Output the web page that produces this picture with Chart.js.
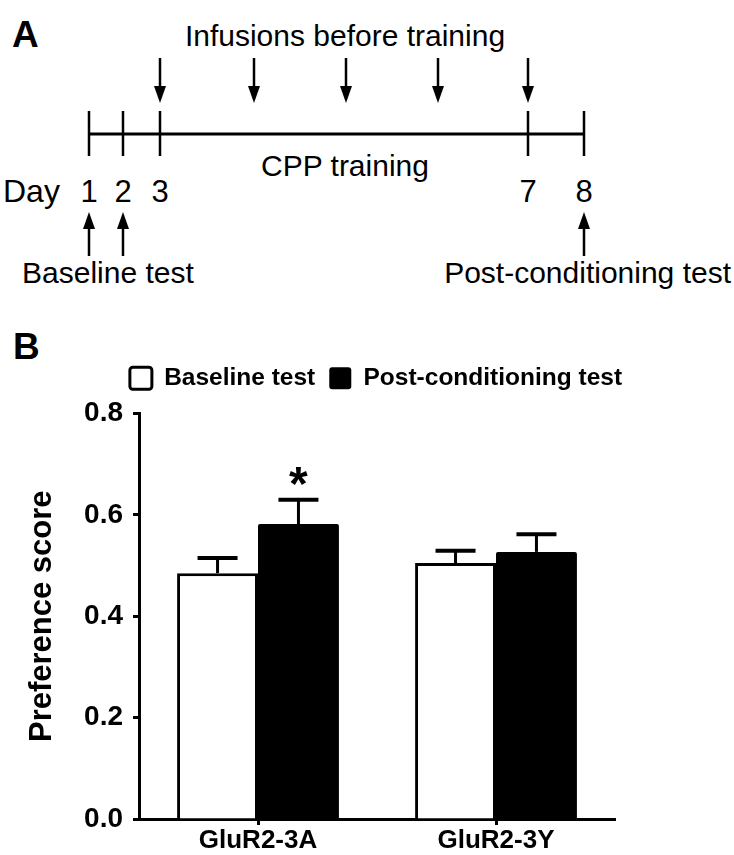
<!DOCTYPE html>
<html>
<head>
<meta charset="utf-8">
<script src="https://cdn.jsdelivr.net/npm/chart.js@4.4.1/dist/chart.umd.min.js"></script>
<style>
    html, body { margin: 0; padding: 0; background: #fff; }
    #page { position: relative; width: 734px; height: 855px; overflow: hidden; }
    #diagram { position: absolute; left: 0; top: 0; }
    #chartBox { position: absolute; left: 18px; top: 352px; width: 716px; height: 503px; }
</style>
</head>
<body>
<div id="page">
    <svg id="diagram" width="734" height="855"></svg>
    <div id="chartBox"><canvas id="myChart"></canvas></div>
</div>
<script>

    // panel B data
    const groups = ['GluR2-3A', 'GluR2-3Y'];
    const baselineScore = [0.485, 0.505];
    const baselineSem = [0.030, 0.024];
    const postScore = [0.582, 0.527];
    const postSem = [0.048, 0.035];
    const postMarks = ['*', ''];
    const yTicks = [0, 0.2, 0.4, 0.6, 0.8];

    // panel A schedule
    const dayTicks = [1, 2, 3, 7, 8];
    const infusionDays = [3, 4, 5, 6, 7];
    const baselineDays = [1, 2];
    const postDays = [8];

    const FONT = "'Liberation Sans', Arial, Helvetica, sans-serif";

    // ---------- panel A: schematic timeline (not to scale) ----------
    const dayX = { 1: 89, 2: 123, 3: 160, 4: 254, 5: 346, 6: 438, 7: 528, 8: 584 };
    const svg = document.getElementById('diagram');
    const NS = 'http://www.w3.org/2000/svg';

    function add(tag, attrs, text) {
        const el = document.createElementNS(NS, tag);
        for (const k in attrs) el.setAttribute(k, attrs[k]);
        if (text !== undefined) el.textContent = text;
        svg.appendChild(el);
        return el;
    }
    function label(x, y, text, size, anchor, bold) {
        return add('text', {
            x: x, y: y, 'font-family': FONT, 'font-size': size,
            'font-weight': bold ? 'bold' : 'normal', 'text-anchor': anchor || 'start', fill: '#000'
        }, text);
    }
    function arrow(x, y1, y2) {
        // head sits at y2
        const dir = y2 > y1 ? 1 : -1;
        add('line', { x1: x, y1: y1, x2: x, y2: y2 - dir * 12, stroke: '#000', 'stroke-width': 2.5 });
        add('polygon', { points: `${x - 6},${y2 - dir * 17} ${x + 6},${y2 - dir * 17} ${x},${y2}`, fill: '#000' });
    }

    label(12, 47, 'A', 37, 'start', true);
    label(345, 46, 'Infusions before training', 30, 'middle');
    infusionDays.forEach(d => arrow(dayX[d], 58, 103));

    add('line', { x1: dayX[1], y1: 134, x2: dayX[8], y2: 134, stroke: '#000', 'stroke-width': 3 });
    dayTicks.forEach(d => {
        add('line', { x1: dayX[d], y1: 111, x2: dayX[d], y2: 156, stroke: '#000', 'stroke-width': 2.5 });
        label(dayX[d], 202, String(d), 31, 'middle');
    });
    label(345, 176, 'CPP training', 30, 'middle');
    label(3, 202, 'Day', 32, 'start');

    baselineDays.concat(postDays).forEach(d => arrow(dayX[d], 256, 212));
    label(22, 283, 'Baseline test', 30, 'start');
    label(731, 283, 'Post-conditioning test', 30, 'end');

    label(13, 359, 'B', 37, 'start', true);

    // ---------- panel B: bar chart ----------
    const errorBars = {
        id: 'errorBars',
        afterDatasetsDraw(chart) {
            const c = chart.ctx;
            const y = chart.scales.y;
            chart.data.datasets.forEach((ds, i) => {
                const meta = chart.getDatasetMeta(i);
                meta.data.forEach((bar, j) => {
                    const top = y.getPixelForValue(ds.data[j] + ds.errors[j]);
                    c.save();
                    c.strokeStyle = '#000';
                    c.lineWidth = 3;
                    c.beginPath();
                    c.moveTo(bar.x, bar.y);
                    c.lineTo(bar.x, top);
                    c.stroke();
                    c.lineWidth = 4;
                    c.beginPath();
                    c.moveTo(bar.x - 20, top);
                    c.lineTo(bar.x + 20, top);
                    c.stroke();
                    const mark = ds.marks ? ds.marks[j] : '';
                    if (mark) {
                        c.font = 'bold 48px ' + FONT;
                        c.fillStyle = '#000';
                        c.textAlign = 'center';
                        c.textBaseline = 'alphabetic';
                        const m = c.measureText(mark);
                        const mid = top - 24;
                        c.fillText(mark, bar.x, mid + (m.actualBoundingBoxAscent - m.actualBoundingBoxDescent) / 2);
                    }
                    c.restore();
                });
            });
        }
    };

    const config = {
        type: 'bar',
        data: {
            labels: groups,
            datasets: [{
                label: 'Baseline test',
                data: baselineScore,
                errors: baselineSem,
                backgroundColor: '#ffffff',
                borderColor: '#000000',
                borderWidth: 3
            }, {
                label: 'Post-conditioning test',
                data: postScore,
                errors: postSem,
                marks: postMarks,
                backgroundColor: '#000000',
                borderColor: '#000000',
                borderWidth: 0,
                borderRadius: 2,
                borderSkipped: 'bottom'
            }]
        },
        options: {
            responsive: true,
            maintainAspectRatio: false,
            animation: false,
            datasets: {
                bar: { categoryPercentage: 0.68, barPercentage: 1 }
            },
            plugins: {
                legend: {
                    position: 'top',
                    align: 'center',
                    weight: 1000,
                    labels: {
                        color: '#000',
                        font: { family: FONT, size: 24.5, weight: 'bold' },
                        boxWidth: 22,
                        boxHeight: 22,
                        padding: 14,
                        useBorderRadius: true,
                        borderRadius: 3
                    }
                },
                // blank spacer between legend and plot
                title: {
                    display: true,
                    text: ' ',
                    weight: 500,
                    font: { size: 10, lineHeight: 1 },
                    padding: { top: 1, bottom: 2 }
                },
                tooltip: { enabled: false }
            },
            scales: {
                x: {
                    grid: {
                        display: true, drawOnChartArea: false, drawTicks: true,
                        tickLength: 6, tickWidth: 3, tickColor: '#000', offset: false
                    },
                    border: { color: '#000', width: 3 },
                    ticks: {
                        color: '#000', padding: 0,
                        font: { family: FONT, size: 26, weight: 'bold' }
                    },
                    afterFit: s => { s.height = 36; }
                },
                y: {
                    min: 0,
                    max: 0.8,
                    afterBuildTicks: s => { s.ticks = yTicks.map(v => ({ value: v })); },
                    grid: {
                        display: true, drawOnChartArea: false, drawTicks: true,
                        tickLength: 6, tickWidth: 3, tickColor: '#000'
                    },
                    border: { color: '#000', width: 3 },
                    ticks: {
                        color: '#000', padding: 10,
                        font: { family: FONT, size: 28, weight: 'bold' },
                        callback: v => Number(v).toFixed(1)
                    },
                    title: {
                        display: true,
                        text: 'Preference score',
                        color: '#000',
                        font: { family: FONT, size: 31, weight: 'bold' },
                        padding: { top: 6, bottom: 4 }
                    },
                    afterFit: s => { s.width = 121; }
                },
                pad: {
                    type: 'linear',
                    position: 'right',
                    display: true,
                    grid: { display: false },
                    ticks: { display: false },
                    border: { display: false },
                    afterFit: s => { s.width = 119; }
                }
            }
        },
        plugins: [errorBars]
    };

    const ctx = document.getElementById('myChart');

    new Chart(ctx, config);
</script>
</body>
</html>
